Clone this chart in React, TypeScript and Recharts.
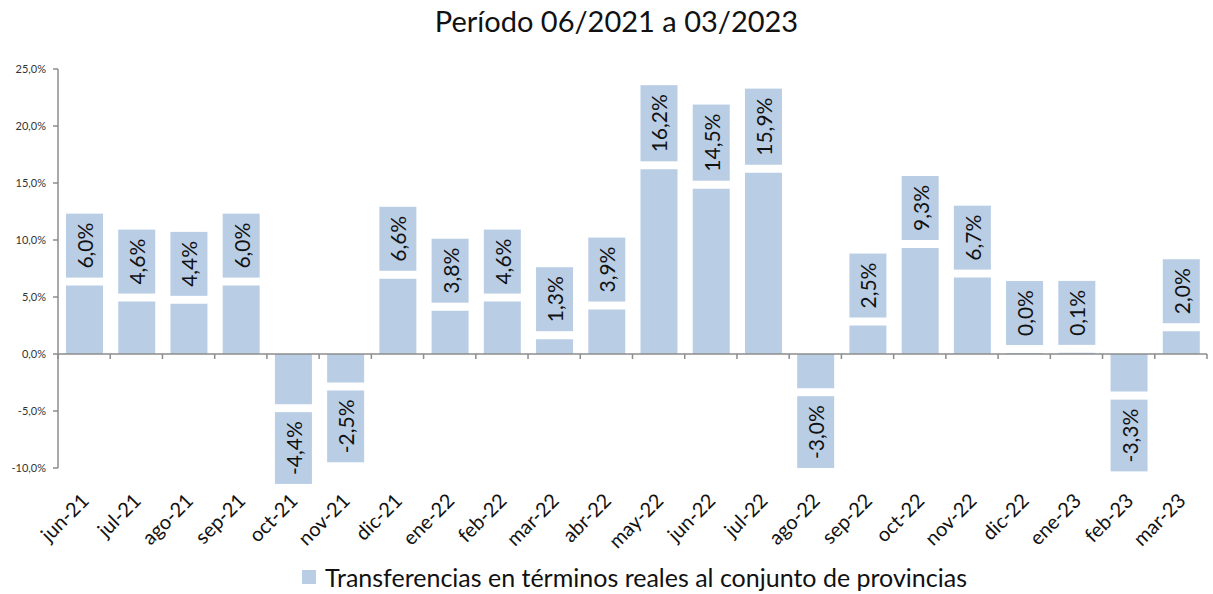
import { BarChart, Bar, XAxis, YAxis, ReferenceLine, LabelList } from "recharts";

const months = [
  "jun-21", "jul-21", "ago-21", "sep-21", "oct-21", "nov-21", "dic-21",
  "ene-22", "feb-22", "mar-22", "abr-22", "may-22", "jun-22", "jul-22",
  "ago-22", "sep-22", "oct-22", "nov-22", "dic-22", "ene-23", "feb-23", "mar-23",
];
const transfers = [
  6.0, 4.6, 4.4, 6.0, -4.4, -2.5, 6.6, 3.8, 4.6, 1.3, 3.9, 16.2, 14.5, 15.9,
  -3.0, 2.5, 9.3, 6.7, 0.0, 0.1, -3.3, 2.0,
];
const yTicks = [-10, -5, 0, 5, 10, 15, 20, 25];

const FONT = "Lato, 'Open Sans', sans-serif";
const BAR = "#B9CDE5";
const AXIS = "#8C8C8C";

const data = months.map((m, i) => ({ month: m, value: transfers[i] }));

const fmt = (v: number) => v.toFixed(1).replace(".", ",") + "%";

let ctx: CanvasRenderingContext2D | null = null;
function textWidth(s: string, size: number) {
  if (!ctx) ctx = document.createElement("canvas").getContext("2d");
  if (!ctx) return s.length * size * 0.55;
  ctx.font = `${size}px ${FONT}`;
  return ctx.measureText(s).width;
}

function BoxLabel(props: any) {
  const { x, y, width, height, value } = props;
  const top = Math.min(y, y + height);
  const bottom = Math.max(y, y + height);
  const txt = fmt(value);
  const fs = 21;
  const h = textWidth(txt, fs) + 18;
  const gap = 8;
  const boxY = value >= 0 ? top - gap - h : bottom + gap;
  const cx = x + width / 2;
  const cy = boxY + h / 2;
  return (
    <g>
      <rect x={x} y={boxY} width={width} height={h} fill={BAR} />
      <text
        x={cx}
        y={cy}
        transform={`rotate(-90, ${cx}, ${cy})`}
        textAnchor="middle"
        dominantBaseline="central"
        fontSize={fs}
        fontFamily={FONT}
        fill="#111"
      >
        {txt}
      </text>
    </g>
  );
}

function MonthTick(props: any) {
  const { x, y, payload } = props;
  const ax = x + 6;
  const ay = y + 26;
  return (
    <text
      x={ax}
      y={ay}
      transform={`rotate(-45, ${ax}, ${ay})`}
      textAnchor="end"
      fontSize={20}
      fontFamily={FONT}
      fill="#111"
    >
      {payload.value}
    </text>
  );
}

function ZeroAxis(props: any) {
  const { x1, y1, x2 } = props;
  const n = months.length;
  const step = (x2 - x1) / n;
  const marks = [];
  for (let i = 0; i <= n; i++) {
    const tx = x1 + i * step;
    marks.push(<line key={i} x1={tx} y1={y1} x2={tx} y2={y1 + 5} stroke={AXIS} strokeWidth={1.5} />);
  }
  return (
    <g>
      <line x1={x1} y1={y1} x2={x2} y2={y1} stroke={AXIS} strokeWidth={1.5} />
      {marks}
    </g>
  );
}

export default function App() {
  return (
    <div style={{ position: "absolute", left: 0, top: 0, width: 1213, height: 594, background: "#fff", fontFamily: FONT }}>
      <div style={{ position: "absolute", left: 10, top: 3, width: 1213, textAlign: "center", fontSize: 29, color: "#111" }}>
        Período 06/2021 a 03/2023
      </div>
      <BarChart
        width={1213}
        height={594}
        data={data}
        margin={{ top: 69, right: 6, bottom: 46, left: 0 }}
        barSize={37}
      >
        <XAxis dataKey="month" axisLine={false} tickLine={false} height={80} tick={<MonthTick />} interval={0} />
        <YAxis
          domain={[-10, 25]}
          ticks={yTicks}
          width={58}
          tickFormatter={fmt}
          tick={{ fontSize: 11, fill: "#333", fontFamily: FONT }}
          axisLine={{ stroke: AXIS, strokeWidth: 1.5 }}
          tickLine={{ stroke: AXIS, strokeWidth: 1.5 }}
          tickSize={5}
          tickMargin={7}
          interval={0}
        />
        <Bar dataKey="value" fill={BAR} minPointSize={1} isAnimationActive={false}>
          <LabelList dataKey="value" content={<BoxLabel />} />
        </Bar>
        <ReferenceLine y={0} shape={<ZeroAxis />} />
      </BarChart>
      <div style={{ position: "absolute", left: 28, top: 562, width: 1213, display: "flex", justifyContent: "center", alignItems: "center", fontSize: 25, color: "#111" }}>
        <span style={{ display: "inline-block", width: 14, height: 14, background: BAR, marginRight: 9 }} />
        Transferencias en términos reales al conjunto de provincias
      </div>
    </div>
  );
}
